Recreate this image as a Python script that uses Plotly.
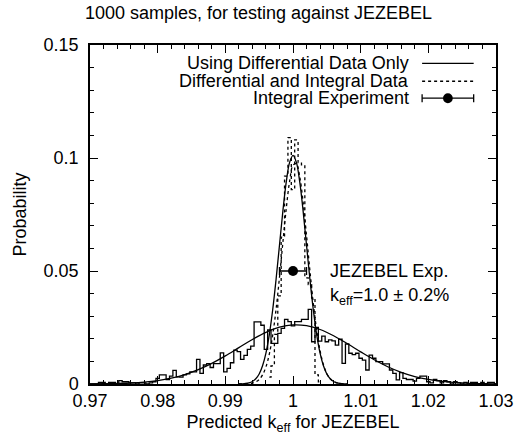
import plotly.graph_objects as go

# ---------------- data ----------------
# broad histogram (Using Differential Data Only), bin centres 0.9700 .. 1.0300 step 0.0005
hist_diff_start = 0.970
hist_diff_step = 0.0005
hist_diff = [
    0.0, 0.0, 0.0, 0.7, 0.7, 0.0, 0.7, 0.7, 0.0, 1.5,      # 0.9700-0.9745
    1.0, 1.0, 0.5, 0.5, 0.0, 0.5, 0.5, 0.0, 0.5, 1.0,      # 0.9750-0.9795
    2.5, 4.0, 4.0, 2.0, 3.5, 6.0, 3.2, 3.0, 4.0, 4.5,      # 0.9800-0.9845
    5.4, 5.4, 10.9, 4.7, 8.4, 9.0, 7.3, 9.0, 9.0, 13.8,    # 0.9850-0.9895
    5.4, 6.9, 9.4, 15.0, 14.3, 10.9, 12.7, 15.3, 16.8, 27.5,  # 0.9900-0.9945
    27.5, 26.0, 15.3, 23.9, 18.0, 18.0, 22.4, 24.6, 28.6, 27.6,  # 0.9950-0.9995
    25.7, 27.6, 27.6, 28.6, 28.6, 33.0, 18.7, 25.0, 19.0, 21.2,  # 1.0000-1.0045
    18.7, 19.5, 19.1, 17.2, 19.8, 9.1, 17.7, 13.6, 13.0, 13.6,   # 1.0050-1.0095
    11.4, 10.6, 6.2, 12.8, 11.4, 9.9, 9.9, 8.9, 8.9, 6.2,        # 1.0100-1.0145
    4.7, 1.8, 5.0, 2.5, 2.0, 2.0, 1.3, 2.5, 3.5, 3.5,            # 1.0150-1.0195
    1.0, 0.5, 2.0, 1.5, 0.5, 1.5, 1.0, 0.0, 1.0, 0.5,            # 1.0200-1.0245
    0.0, 0.7, 0.0, 0.7, 0.7, 0.0, 0.7, 0.0, 0.7, 0.7,            # 1.0250-1.0295
    0.0,                                                         # 1.0300
]  # units of 1e-3

# narrow histogram (Differential and Integral Data), bin centres 0.9965 .. 1.0040
hist_int_start = 0.9965
hist_int_step = 0.0005
hist_int = [0.003, 0.008, 0.022, 0.039, 0.065, 0.092, 0.109, 0.086,
            0.108, 0.098, 0.097, 0.047, 0.044, 0.038, 0.004, 0.001]

# broad fitted curve, read at x = 0.970 .. 1.030 step 0.002
fit_diff_x0 = 0.970
fit_diff_dx = 0.002
fit_diff = [0.000049, 0.000108, 0.000227, 0.000453, 0.000855, 0.00153, 0.00259,
            0.00416, 0.00632, 0.00911, 0.01243, 0.01608, 0.01969, 0.02285,
            0.02512, 0.02616, 0.02580, 0.02412, 0.02135, 0.01791, 0.01424,
            0.01072, 0.00764, 0.00516, 0.00330, 0.00200, 0.00115, 0.00063,
            0.00032, 0.00016, 0.00007]

# narrow solid curve (experiment 1.0 +- 0.2%), x = 0.992 .. 1.008 step 0.0005
exp_curve_x0 = 0.992
exp_curve_dx = 0.0005
exp_curve = [0.0000339, 0.0000895, 0.000222, 0.000515, 0.001124, 0.002307,
             0.004447, 0.008052, 0.013696, 0.02189, 0.03286, 0.04633, 0.06138,
             0.07639, 0.08931, 0.09808, 0.1012, 0.09808, 0.08931, 0.07639,
             0.06138, 0.04633, 0.03286, 0.02189, 0.013696, 0.008052, 0.004447,
             0.002307, 0.001124, 0.000515, 0.000222, 0.0000895, 0.0000339]

# narrow dotted fitted curve, x = 0.992 .. 1.008 step 0.0005
fit_int = [0.000007, 0.000021, 0.000061, 0.000163, 0.000401, 0.000928, 0.00200,
           0.00403, 0.00757, 0.01326, 0.02169, 0.03309, 0.04710, 0.06256,
           0.07755, 0.08969, 0.09678, 0.09746, 0.09157, 0.08028, 0.06567,
           0.05013, 0.03570, 0.02374, 0.01472, 0.00852, 0.00460, 0.00232,
           0.00109, 0.00048, 0.00020, 0.000075, 0.000027]

# integral experiment point
exp_k = [1.0]
exp_p = [0.05]
exp_err = [0.002]

title_text = "1000 samples, for testing against JEZEBEL"
legend_names = ["Using Differential Data Only", "Differential and Integral Data",
                "Integral Experiment"]

# ---------------- build ----------------
hx = [round(hist_diff_start + i * hist_diff_step, 5) for i in range(len(hist_diff))]
hy = [v / 1000.0 for v in hist_diff]
ix = [round(hist_int_start + i * hist_int_step, 5) for i in range(len(hist_int))]
fx = [round(fit_diff_x0 + i * fit_diff_dx, 4) for i in range(len(fit_diff))]
ex = [round(exp_curve_x0 + i * exp_curve_dx, 5) for i in range(len(exp_curve))]

FONT = "Liberation Sans, Arial, Helvetica, sans-serif"
LW = 1.3

fig = go.Figure()
fig.add_trace(go.Scatter(x=hx, y=hy, mode="lines", line=dict(color="black", width=LW, shape="hvh"),
                         showlegend=False))
fig.add_trace(go.Scatter(x=fx, y=fit_diff, mode="lines",
                         line=dict(color="black", width=LW, shape="spline"), showlegend=False))
fig.add_trace(go.Scatter(x=ex, y=fit_int, mode="lines",
                         line=dict(color="black", width=LW, dash="3px,3px", shape="spline"),
                         showlegend=False))
fig.add_trace(go.Scatter(x=ix, y=hist_int, mode="lines",
                         line=dict(color="black", width=LW, dash="3px,3px", shape="hvh"),
                         showlegend=False))
fig.add_trace(go.Scatter(x=ex, y=exp_curve, mode="lines",
                         line=dict(color="black", width=LW, shape="spline"), showlegend=False))
fig.add_trace(go.Scatter(x=exp_k, y=exp_p, mode="markers",
                         marker=dict(color="black", size=10),
                         error_x=dict(type="data", array=exp_err, color="black",
                                      thickness=LW, width=4),
                         showlegend=False))

# ---------------- legend (text left, sample right) ----------------
rows = [0.946, 0.893, 0.843]
tx = 0.789
s0, s1 = 0.818, 0.945
ann = []
for name, ry in zip(legend_names, rows):
    ann.append(dict(xref="paper", yref="paper", x=tx, y=ry, text=name, showarrow=False,
                    xanchor="right", yanchor="middle", borderpad=0,
                    font=dict(size=18, family=FONT, color="black")))
shapes = [
    dict(type="line", xref="paper", yref="paper", x0=s0, x1=s1, y0=rows[0], y1=rows[0],
         line=dict(color="black", width=LW)),
    dict(type="line", xref="paper", yref="paper", x0=s0, x1=s1, y0=rows[1], y1=rows[1],
         line=dict(color="black", width=LW, dash="3px,3px")),
    dict(type="line", xref="paper", yref="paper", x0=s0, x1=s1, y0=rows[2], y1=rows[2],
         line=dict(color="black", width=LW)),
    dict(type="line", xref="paper", yref="paper", x0=s0, x1=s0, y0=rows[2] - 0.012, y1=rows[2] + 0.012,
         line=dict(color="black", width=LW)),
    dict(type="line", xref="paper", yref="paper", x0=s1, x1=s1, y0=rows[2] - 0.012, y1=rows[2] + 0.012,
         line=dict(color="black", width=LW)),
    dict(type="circle", xref="paper", yref="paper", x0=(s0 + s1) / 2 - 0.012, x1=(s0 + s1) / 2 + 0.012,
         y0=rows[2] - 0.0145, y1=rows[2] + 0.0145, fillcolor="black", line=dict(color="black", width=0)),
]

ann.append(dict(xref="paper", yref="paper", x=0.585, y=0.332, text="JEZEBEL Exp.",
                showarrow=False, xanchor="left", yanchor="middle",
                font=dict(size=18, family=FONT, color="black")))
ann.append(dict(xref="paper", yref="paper", x=0.585, y=0.258, text="k<sub>eff</sub>=1.0 ± 0.2%",
                showarrow=False, xanchor="left", yanchor="middle",
                font=dict(size=18, family=FONT, color="black")))

axis_common = dict(showline=True, linecolor="black", linewidth=1.5, mirror="allticks",
                   ticks="inside", ticklen=8, tickwidth=1, tickcolor="black",
                   showgrid=False, zeroline=False, automargin=False,
                   tickfont=dict(size=18, family=FONT, color="black"))

fig.update_layout(
    width=517, height=442,
    margin=dict(l=90, r=21, t=45, b=58, pad=0),
    paper_bgcolor="white", plot_bgcolor="white",
    title=dict(text=title_text, x=0.5, xanchor="center", y=0.972, yanchor="middle",
               font=dict(size=18, family=FONT, color="black")),
    xaxis=dict(range=[0.97, 1.03], tickvals=[0.97, 0.98, 0.99, 1.0, 1.01, 1.02, 1.03],
               ticktext=["0.97", "0.98", "0.99", "1", "1.01", "1.02", "1.03"],
               minor=dict(ticks="inside", dtick=0.002, tick0=0.97, ticklen=4, tickcolor="black"),
               title=dict(text="Predicted k<sub>eff</sub> for JEZEBEL", standoff=5,
                          font=dict(size=18, family=FONT, color="black")),
               **axis_common),
    yaxis=dict(range=[0, 0.15], tickvals=[0, 0.05, 0.1, 0.15],
               ticktext=["0", "0.05", "0.1", "0.15"],
               minor=dict(ticks="inside", dtick=0.01, tick0=0, ticklen=4, tickcolor="black"),
               title=dict(text="Probability", standoff=12,
                          font=dict(size=18, family=FONT, color="black")),
               ticklabelstandoff=6,
               **axis_common),
    annotations=ann,
    shapes=shapes,
    showlegend=False,
)

fig.write_html("out.html", config={"displayModeBar": False},
               post_script="document.body.style.margin='0px';document.body.style.overflow='hidden';"
                           "document.documentElement.style.overflow='hidden';")
